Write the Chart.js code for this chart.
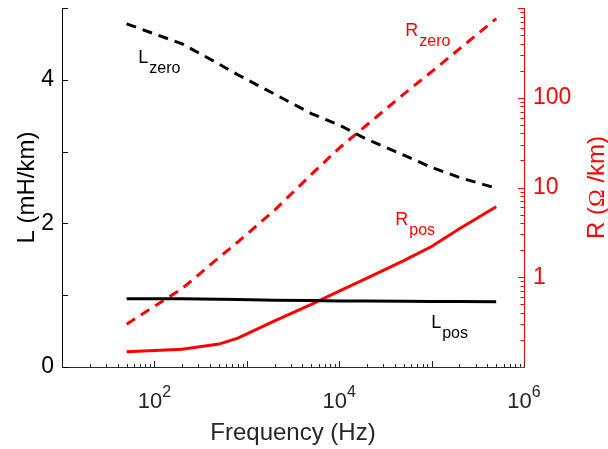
<!DOCTYPE html>
<html>
<head>
<meta charset="utf-8">
<title>Line impedance vs frequency</title>
<script src="https://cdn.jsdelivr.net/npm/chart.js@4.4.1/dist/chart.umd.min.js"></script>
<style>
  html, body { margin: 0; padding: 0; background: #fff; }
  canvas { display: block; }
</style>
</head>
<body>
<canvas id="lineParams" width="608" height="449"></canvas>
<script>
// per-km inductance and resistance of the line, positive and zero sequence
const freqHz = [50, 200, 500, 800, 2000, 5000, 10000, 20000, 50000, 100000, 200000, 500000];
const lPos  = [0.95, 0.95, 0.945, 0.94, 0.93, 0.925, 0.92, 0.918, 0.915, 0.913, 0.912, 0.91];
const lZero = [4.78, 4.50, 4.22, 4.07, 3.80, 3.53, 3.37, 3.17, 2.95, 2.78, 2.64, 2.49];
const rPos  = [0.148, 0.158, 0.18, 0.21, 0.327, 0.50, 0.70, 0.98, 1.53, 2.2, 3.47, 6.1];
const rZero = [0.30, 0.75, 1.66, 2.47, 5.6, 14, 27.5, 50, 110, 195, 350, 760];

const xTickExp = [2, 4, 6];
const lTickLabels = [0, 2, 4];
const rTickLabels = [1, 10, 100];

// curve names, anchored in data units (frequency, value on own axis)
const curveNames = [
  { main: 'L', sub: 'zero', f: 67,    v: 4.23,  axis: 'y',  color: '#000' },
  { main: 'R', sub: 'zero', f: 52000, v: 483,   axis: 'y1', color: '#ff0000' },
  { main: 'R', sub: 'pos',  f: 40500, v: 3.86,  axis: 'y1', color: '#ff0000' },
  { main: 'L', sub: 'pos',  f: 98900, v: 0.539, axis: 'y',  color: '#000' }
];

const SANS = '"Liberation Sans", Arial, Helvetica, sans-serif';
const RED = '#ff0000';
const AXIS_GREY = '#262626';

const pts = ys => freqHz.map((f, i) => ({ x: f, y: ys[i] }));

// fixed box sizes so the plot area lands at the same spot every time
const fixBox = (w, h) => s => {
  if (w != null) s.width = w;
  if (h != null) s.height = h;
  s.paddingTop = 0;
  s.paddingBottom = 0;
  s.paddingLeft = 0;
  s.paddingRight = 0;
};

// inward tick marks, x tick labels with exponents, titles and curve names
const axisDecor = {
  id: 'axisDecor',
  afterDraw(chart) {
    const { ctx, chartArea: a, scales: { x, y, y1 } } = chart;
    ctx.save();
    ctx.lineWidth = 1;

    // x: decade + minor ticks, pointing up
    ctx.strokeStyle = AXIS_GREY;
    ctx.beginPath();
    for (let e = 1; e <= 6; e++) {
      for (let m = 1; m < 10; m++) {
        if (e === 6 && m > 1) break;
        const px = Math.round(x.getPixelForValue(m * 10 ** e)) + 0.5;
        const len = m === 1 ? 6 : 3;
        ctx.moveTo(px, a.bottom);
        ctx.lineTo(px, a.bottom - len);
      }
    }
    ctx.stroke();

    // left: ticks every 1 mH/km
    ctx.strokeStyle = '#000';
    ctx.beginPath();
    for (let v = 0; v <= 5; v++) {
      const py = Math.round(y.getPixelForValue(v)) + 0.5;
      ctx.moveTo(a.left, py);
      ctx.lineTo(a.left + 6, py);
    }
    ctx.stroke();

    // right: log ticks, pointing left
    ctx.strokeStyle = RED;
    ctx.beginPath();
    for (let e = -1; e <= 3; e++) {
      for (let m = 1; m < 10; m++) {
        if (e === 3 && m > 1) break;
        const py = Math.round(y1.getPixelForValue(m * 10 ** e)) + 0.5;
        const len = m === 1 ? 6 : 3.5;
        ctx.moveTo(a.right, py);
        ctx.lineTo(a.right - len, py);
      }
    }
    ctx.stroke();

    // x tick labels: 10^n
    ctx.fillStyle = AXIS_GREY;
    ctx.textBaseline = 'alphabetic';
    ctx.textAlign = 'left';
    xTickExp.forEach(n => {
      const px = x.getPixelForValue(10 ** n);
      ctx.font = '22px ' + SANS;
      const wBase = ctx.measureText('10').width;
      ctx.font = '16px ' + SANS;
      const wExp = ctx.measureText(String(n)).width;
      const x0 = px - (wBase + wExp) / 2;
      ctx.font = '22px ' + SANS;
      ctx.fillText('10', x0, a.bottom + 40.5);
      ctx.font = '16px ' + SANS;
      ctx.fillText(String(n), x0 + wBase, a.bottom + 30);
    });

    // x title
    ctx.font = '24px ' + SANS;
    ctx.textAlign = 'center';
    ctx.fillText('Frequency (Hz)', (a.left + a.right) / 2, a.bottom + 73);

    const midY = (a.top + a.bottom) / 2;

    // left title
    ctx.save();
    ctx.fillStyle = '#000';
    ctx.translate(33.5, midY);
    ctx.rotate(-Math.PI / 2);
    ctx.fillText('L (mH/km)', 0, 0);
    ctx.restore();

    // right title, omega set in a serif face
    ctx.save();
    ctx.fillStyle = RED;
    ctx.translate(a.right + 80, midY);
    ctx.rotate(-Math.PI / 2);
    const parts = [
      ['R (', '24px ' + SANS],
      ['\u03A9', '24px "Liberation Serif", "Times New Roman", serif'],
      [' /km)', '24px ' + SANS]
    ];
    let total = 0;
    parts.forEach(p => { ctx.font = p[1]; total += ctx.measureText(p[0]).width; });
    let cx = -total / 2;
    ctx.textAlign = 'left';
    parts.forEach(p => {
      ctx.font = p[1];
      ctx.fillText(p[0], cx, 0);
      cx += ctx.measureText(p[0]).width;
    });
    ctx.restore();

    // curve names with subscripts
    ctx.textAlign = 'left';
    curveNames.forEach(c => {
      const px = x.getPixelForValue(c.f);
      const py = chart.scales[c.axis].getPixelForValue(c.v);
      ctx.fillStyle = c.color;
      ctx.font = '18px ' + SANS;
      const w = ctx.measureText(c.main).width;
      ctx.fillText(c.main, px, py);
      ctx.font = '16px ' + SANS;
      ctx.fillText(c.sub, px + w + 1, py + 10);
    });

    ctx.restore();
  }
};

Chart.defaults.font.family = SANS;

new Chart(document.getElementById('lineParams'), {
  type: 'line',
  data: {
    datasets: [
      {
        label: 'L zero',
        data: pts(lZero),
        yAxisID: 'y',
        borderColor: '#000',
        borderWidth: 3,
        borderDash: [10, 7],
        pointRadius: 0,
        tension: 0
      },
      {
        label: 'L pos',
        data: pts(lPos),
        yAxisID: 'y',
        borderColor: '#000',
        borderWidth: 3,
        pointRadius: 0,
        tension: 0
      },
      {
        label: 'R zero',
        data: pts(rZero),
        yAxisID: 'y1',
        borderColor: RED,
        borderWidth: 3,
        borderDash: [10, 7],
        pointRadius: 0,
        tension: 0
      },
      {
        label: 'R pos',
        data: pts(rPos),
        yAxisID: 'y1',
        borderColor: RED,
        borderWidth: 3,
        pointRadius: 0,
        tension: 0
      }
    ]
  },
  options: {
    responsive: false,
    animation: false,
    devicePixelRatio: 1,
    layout: { padding: { top: 8, left: 0, right: 0, bottom: 0 } },
    plugins: {
      legend: { display: false },
      tooltip: { enabled: false }
    },
    scales: {
      x: {
        type: 'logarithmic',
        position: 'bottom',
        min: 10,
        max: 1e6,
        grid: { display: false, drawTicks: false },
        border: { display: true, color: AXIS_GREY, width: 1 },
        ticks: { display: false },
        afterFit: fixBox(null, 82)
      },
      y: {
        type: 'linear',
        position: 'left',
        min: 0,
        max: 5,
        grid: { display: false, drawTicks: false },
        border: { display: true, color: '#000', width: 1 },
        ticks: {
          stepSize: 1,
          autoSkip: false,
          padding: 8,
          color: '#000',
          font: { size: 23 },
          callback: v => lTickLabels.includes(v) ? String(v) : ''
        },
        afterFit: fixBox(62, null)
      },
      y1: {
        type: 'logarithmic',
        position: 'right',
        min: 0.1,
        max: 1000,
        grid: { display: false, drawTicks: false },
        border: { display: true, color: RED, width: 1 },
        ticks: {
          autoSkip: false,
          padding: 9,
          color: RED,
          font: { size: 23 },
          callback: v => rTickLabels.includes(v) ? String(v) : ''
        },
        afterFit: fixBox(84, null)
      }
    }
  },
  plugins: [axisDecor]
});
</script>
</body>
</html>
